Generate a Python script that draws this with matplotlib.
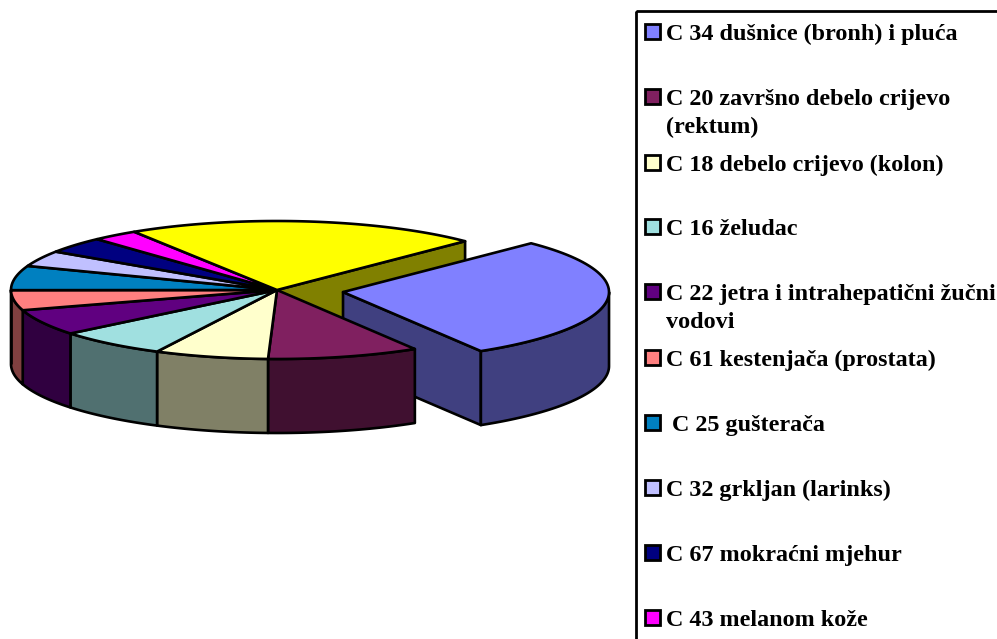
import numpy as np
import matplotlib
matplotlib.use('Agg')
import matplotlib.pyplot as plt
from matplotlib.patches import Polygon, Rectangle

# shares, clockwise from the exploded slice
values = [28.8, 9.2, 6.9, 6.7, 6.1, 4.7, 5.7, 3.7, 3.8, 2.8, 21.5]
colors = ['#8080FF', '#802060', '#FFFFCC', '#A0E0E0', '#600080', '#FF8080',
          '#0080C0', '#C0C0FF', '#000080', '#FF00FF', '#FFFF00']
legend_labels = ['C 34 dušnice (bronh) i pluća',
                 'C 20 završno debelo crijevo\n(rektum)',
                 'C 18 debelo crijevo (kolon)',
                 'C 16 želudac',
                 'C 22 jetra i intrahepatični žučni\nvodovi',
                 'C 61 kestenjača (prostata)',
                 ' C 25 gušterača',
                 'C 32 grkljan (larinks)',
                 'C 67 mokraćni mjehur',
                 'C 43 melanom kože']
legend_y = [32, 97, 163, 227, 292, 358, 423, 488, 553, 618]

cx, cy = 277, 290
rx, ry = 266, 69
depth = 74
start_angle = 45
explode = 0.25
lw = 1.9


def arc(a0, a1, ox, oy, n=60):
    t = np.radians(np.linspace(a0, a1, n))
    return np.column_stack((ox + rx * np.cos(t), oy - ry * np.sin(t)))


def dark(c):
    return tuple(v * 0.5 for v in matplotlib.colors.to_rgb(c))


def poly(ax, pts, color):
    ax.add_patch(Polygon(pts, closed=True, facecolor=color, edgecolor='black',
                         linewidth=lw, joinstyle='round'))


def radial_wall(ax, angle, ox, oy, color):
    tip = arc(angle, angle, ox, oy, 1)[0]
    poly(ax, [(ox, oy), tip, (tip[0], tip[1] + depth), (ox, oy + depth)], color)


def outer_wall(ax, a0, a1, ox, oy, color):
    # only the part of the rim facing the viewer, angles going down from a0 to a1
    a0, a1 = min(a0, 360), max(a1, 180)
    if a0 <= a1:
        return
    top = arc(a0, a1, ox, oy)
    poly(ax, np.vstack((top, top[::-1] + [0, depth])), color)


def top_face(ax, a0, a1, ox, oy, color):
    poly(ax, np.vstack(([(ox, oy)], arc(a0, a1, ox, oy))), color)


fig = plt.figure(figsize=(9.97, 6.39), dpi=100)
ax = fig.add_axes([0, 0, 1, 1])
ax.set_xlim(0, 997)
ax.set_ylim(639, 0)
ax.axis('off')

spans = np.array(values) / sum(values) * 360
ends = start_angle - np.cumsum(spans)
starts = ends + spans

# wall of the last slice, seen through the gap
radial_wall(ax, start_angle, cx, cy, dark(colors[-1]))

# exploded slice goes behind the rest of the pie
mid = np.radians((starts[0] + ends[0]) / 2)
ox = cx + explode * rx * np.cos(mid)
oy = cy - explode * ry * np.sin(mid)
radial_wall(ax, ends[0], ox, oy, dark(colors[0]))
outer_wall(ax, 360, ends[0] + 360, ox, oy, dark(colors[0]))
top_face(ax, starts[0], ends[0], ox, oy, colors[0])

for i in range(1, len(values)):
    a0, a1 = starts[i] % 360, ends[i] % 360
    if a0 < a1:
        a0 += 360
    outer_wall(ax, a0, a1, cx, cy, dark(colors[i]))
for i in range(1, len(values)):
    top_face(ax, starts[i], ends[i], cx, cy, colors[i])

# legend box runs off the right and bottom of the picture
ax.add_patch(Rectangle((635.5, 11), 400, 700, facecolor='none', edgecolor='black',
                       linewidth=2.0))
for label, y, color in zip(legend_labels, legend_y, colors):
    ax.add_patch(Rectangle((644.5, y - 8), 15, 15, facecolor=color, edgecolor='black',
                           linewidth=2.0))
    for k, line in enumerate(label.split('\n')):
        ax.text(666, y + 8 + k * 28, line, family='Liberation Serif', fontweight='bold',
                fontsize=17.4, color='black', va='baseline', ha='left')

fig.savefig('out.png', dpi=100)
